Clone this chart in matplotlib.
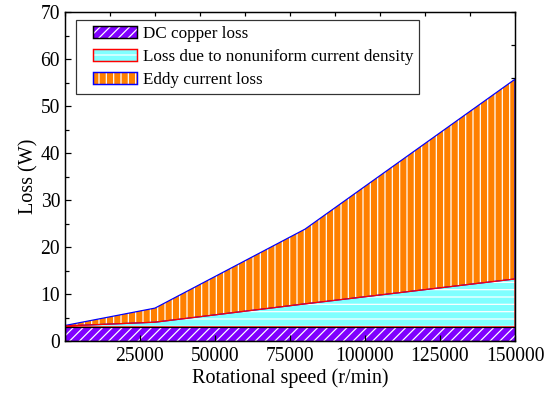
import numpy as np
import matplotlib
matplotlib.use("Agg")
import matplotlib.pyplot as plt
from matplotlib.patches import Rectangle, Patch
from matplotlib.legend_handler import HandlerBase

## Donnees
speed = [0, 30000, 80000, 150000]
dc_loss = [3.0, 3.0, 3.0, 3.0]
nonuniform_loss = [0.2, 1.0, 4.9, 10.2]
eddy_loss = [0.1, 3.0, 15.9, 42.5]
labels = ["DC copper loss", "Loss due to nonuniform current density", "Eddy current loss"]

faces = ["#8000FF", "#80FFFF", "#FF8000"]
edges = ["black", "red", "blue"]
hatches = ["///", "--", "||"]

plt.rcParams['font.family'] = ['Liberation Serif', 'DejaVu Serif']
plt.rcParams['hatch.linewidth'] = 1.0

DPI = 88
fig = plt.figure(figsize=(558 / DPI, 398 / DPI), dpi=DPI)
ax = fig.add_axes([65 / 558, 57 / 398, 450 / 558, 329 / 398])

x = np.array(speed)
y0 = np.zeros(len(x))
y1 = y0 + np.array(dc_loss)
y2 = y1 + np.array(nonuniform_loss)
y3 = y2 + np.array(eddy_loss)
bands = [(y0, y1), (y1, y2), (y2, y3)]

for (lo, hi), fc, h in zip(bands, faces, hatches):
    ax.fill_between(x, lo, hi, facecolor=fc, edgecolor='none', lw=0)
    ax.fill_between(x, lo, hi, facecolor='none', edgecolor='white', hatch=h, lw=0)
# contours: du haut vers le bas pour que les bords du bas restent visibles
for (lo, hi), ec in list(zip(bands, edges))[::-1]:
    ax.fill_between(x, lo, hi, facecolor='none', edgecolor=ec, lw=1.0)


class HatchHandler(HandlerBase):
    def create_artists(self, legend, orig_handle, xdescent, ydescent,
                       width, height, fontsize, trans):
        w = 36
        x0 = -xdescent + width - w
        back = Rectangle((x0, -ydescent), w, height, facecolor=orig_handle.get_facecolor(),
                         edgecolor='white', hatch=orig_handle.get_hatch(), lw=0, transform=trans)
        edge = Rectangle((x0, -ydescent), w, height, facecolor='none',
                         edgecolor=orig_handle.get_edgecolor(), lw=1.2, transform=trans)
        return [back, edge]


handles = [Patch(facecolor=fc, edgecolor=ec, hatch=h) for fc, ec, h in zip(faces, edges, hatches)]
leg = ax.legend(handles, labels, loc='upper left', bbox_to_anchor=(0.024, 0.976),
                borderaxespad=0, fontsize=14, fancybox=False, framealpha=1,
                edgecolor='#333333', handlelength=3.2, handleheight=0.7,
                handletextpad=0.35, labelspacing=0.4, borderpad=0.35,
                handler_map={Patch: HatchHandler()})
leg.get_frame().set_linewidth(1.0)

ax.set_xlim(0, 150000)
ax.set_ylim(0, 70)
ax.set_xticks([25000, 50000, 75000, 100000, 125000, 150000])
ax.set_yticks(range(0, 71, 10))
ax.set_yticks(range(5, 70, 10), minor=True)
ax.tick_params(axis='x', which='major', direction='in', length=5, width=1.0,
               labelsize=16, pad=5)
ax.tick_params(axis='y', which='major', direction='in', length=5, width=1.0,
               labelsize=16, pad=4)
ax.tick_params(axis='y', which='minor', direction='in', length=3, width=1.0)
for s in ax.spines.values():
    s.set_linewidth(1.2)

top = ax.secondary_xaxis('top')
top.set_xticks(range(0, 150001, 15000))
top.set_xticklabels([])
top.tick_params(direction='in', length=3, width=1.0)
right = ax.secondary_yaxis('right')
right.set_yticks(range(0, 71, 7))
right.set_yticklabels([])
right.tick_params(direction='in', length=3, width=1.0)

ax.set_xlabel("Rotational speed (r/min)", fontsize=16.5, labelpad=2)
ax.set_ylabel("Loss (W)", fontsize=16.5, labelpad=2)

fig.savefig("out.png", dpi=DPI)
